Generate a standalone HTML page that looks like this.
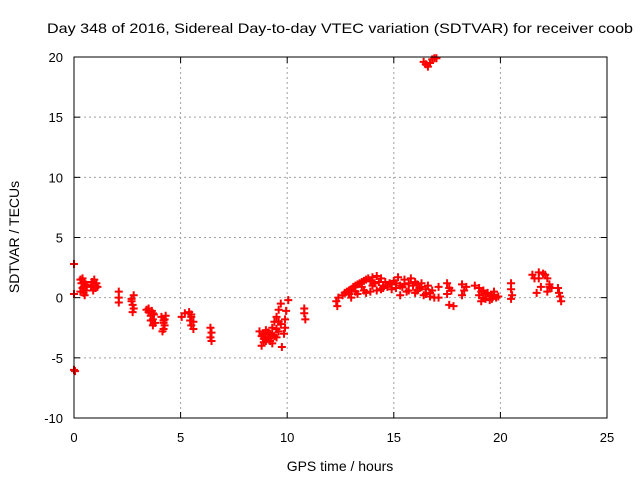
<!DOCTYPE html>
<html><head><meta charset="utf-8"><style>
html,body{margin:0;padding:0;background:#fff;}
svg{display:block;font-family:"Liberation Sans",sans-serif;}
</style></head><body>
<svg id="chart" width="640" height="480">
<text x="47" y="33" font-size="14" textLength="586" lengthAdjust="spacingAndGlyphs">Day 348 of 2016, Sidereal Day-to-day VTEC variation (SDTVAR) for receiver coob</text>
<text transform="translate(19,237) rotate(-90)" text-anchor="middle" font-size="14">SDTVAR / TECUs</text>
<text x="340" y="471" text-anchor="middle" font-size="14">GPS time / hours</text>
<g id="grid"></g><g id="ticks"></g><g id="marks"></g>
<rect x="74" y="57" width="533" height="361" fill="none" stroke="#000" stroke-width="1"/>
</svg>
<script>
const xTicks=[0,5,10,15,20,25];
const yTicks=[-10,-5,0,5,10,15,20];
const times=[0,0,0,0.05,0.3,0.35,0.4,0.45,0.5,0.55,0.6,0.3,0.4,0.5,0.8,0.85,0.9,0.95,1.0,1.05,1.1,0.9,2.1,2.1,2.1,2.7,2.75,2.8,2.75,2.8,2.7,3.4,3.5,3.6,3.7,3.8,3.5,3.65,3.75,3.7,4.1,4.2,4.25,4.2,4.15,4.3,4.2,5.05,5.2,5.4,5.5,5.6,5.5,5.6,5.45,6.4,6.45,6.4,6.45,8.7,8.8,8.9,9.0,8.8,8.9,9.1,9.2,9.3,9.4,9.5,9.6,9.7,9.5,9.6,9.7,9.2,9.4,9.0,9.75,9.9,9.9,9.85,9.95,10.05,10.8,10.8,10.85,12.3,12.35,12.4,12.6,12.8,13.0,13.2,13.4,13.6,13.8,14.0,14.2,14.4,13.0,13.3,13.6,13.9,14.2,14.5,13.5,14.0,14.6,14.8,12.9,15.0,15.2,15.5,15.8,16.0,16.3,16.6,15.1,15.4,15.7,16.0,16.2,16.5,16.7,16.9,17.1,16.8,15.3,17.1,17.5,17.6,17.5,17.7,17.6,17.8,18.2,18.3,18.2,18.4,18.8,19.0,19.2,19.4,19.6,19.8,19.0,19.3,19.1,19.5,19.7,19.9,20.5,20.5,20.55,20.5,21.5,21.6,21.8,22.0,22.2,22.3,22.4,21.7,21.9,22.2,22.7,22.75,22.8,22.85,16.4,16.5,16.6,16.7,16.8,16.9,17.0,
12.7,12.9,13.1,13.3,13.5,13.7,13.9,14.1,14.3,14.5,14.7,14.9,15.1,15.3,15.5,15.7,15.9,16.1,16.3,16.5,16.7,13.2,13.7,14.4,14.9,15.6,16.1,16.4,19.1,19.3,19.5,19.7,19.2,19.6,8.9,9.1,9.3,9.5,9.0,9.3,9.6,0.45,0.55,1.0,3.6,3.7,4.25,5.5,21.8,22.1,22.3];
const values=[2.8,0.3,-6.0,-6.1,1.5,1.2,0.8,0.4,1.3,0.6,1.0,0.5,1.6,0.2,0.9,1.3,1.0,1.5,0.8,1.2,0.9,0.6,0.5,0.0,-0.4,-0.3,-0.6,-0.9,-1.2,0.2,-0.1,-1.0,-1.2,-1.5,-1.8,-2.1,-0.9,-1.1,-1.4,-2.3,-1.6,-1.9,-2.3,-2.6,-2.8,-1.5,-2.1,-1.6,-1.3,-1.2,-1.6,-2.0,-2.3,-2.6,-1.9,-2.5,-2.9,-3.3,-3.6,-2.8,-3.2,-3.0,-2.7,-4.0,-3.7,-3.4,-3.0,-2.5,-2.0,-1.6,-1.0,-0.5,-3.3,-2.8,-2.2,-3.6,-3.2,-3.6,-4.1,-2.5,-1.8,-3.0,-1.1,-0.2,-0.9,-1.3,-1.8,-0.3,-0.7,0.0,0.2,0.5,0.7,1.0,1.2,1.4,1.6,1.7,1.8,1.6,0.0,0.3,0.6,0.5,0.6,0.8,0.9,1.0,1.3,1.2,0.3,1.4,1.7,1.5,1.6,1.3,1.2,1.0,0.8,0.9,0.6,0.4,0.8,0.3,0.1,0.0,0.0,0.6,0.2,0.9,1.2,0.8,0.3,0.6,-0.6,-0.7,1.1,0.6,0.2,0.9,1.0,0.8,0.6,0.4,0.2,0.0,0.2,-0.1,-0.3,-0.2,0.5,0.1,1.2,0.7,0.2,-0.1,1.9,1.6,2.1,2.0,1.6,1.1,0.8,0.4,0.9,0.5,0.8,0.4,0.1,-0.3,19.6,19.4,19.2,19.5,19.8,19.9,19.9,
0.4,0.6,0.9,1.1,1.3,1.5,1.4,1.2,1.3,1.0,0.9,1.1,1.2,1.0,1.1,1.2,1.0,1.1,0.9,0.7,0.4,0.5,0.4,0.7,0.7,0.5,0.6,0.2,0.5,0.3,0.1,0.2,0.0,-0.1,-3.4,-2.9,-3.1,-2.6,-3.3,-3.8,-2.0,0.9,1.1,1.0,-1.9,-1.3,-1.8,-1.4,1.6,1.9,0.9];
const NS='http://www.w3.org/2000/svg';
const X0=74,X1=607,Y0=418,Y1=57;
function xs(v){return X0+(v-0)/(25-0)*(X1-X0);}
function ys(v){return Y0-(v+10)/(30)*(Y0-Y1);}
function mk(tag,at,parent){const e=document.createElementNS(NS,tag);for(const k in at)e.setAttribute(k,at[k]);parent.appendChild(e);return e;}
const grid=document.getElementById('grid'),ticks=document.getElementById('ticks'),marks=document.getElementById('marks');
xTicks.forEach(t=>{const x=xs(t);
 if(t>0&&t<25){const g=mk('line',{x1:x,x2:x,y1:Y1,y2:Y0,stroke:'#a0a0a0','stroke-dasharray':'2,3'},grid);
 
 }
 mk('line',{x1:x,x2:x,y1:Y0,y2:Y0-6,stroke:'#000'},ticks);
 mk('line',{x1:x,x2:x,y1:Y1,y2:Y1+6,stroke:'#000'},ticks);
 const l=mk('text',{x:x,y:442,'text-anchor':'middle','font-size':'13'},ticks);l.textContent=t;
 
 
});
yTicks.forEach(t=>{const y=ys(t);
 if(t>-10&&t<20){const g=mk('line',{x1:X0,x2:X1,y1:y,y2:y,stroke:'#a0a0a0','stroke-dasharray':'2,3'},grid);
 
 }
 mk('line',{x1:X0,x2:X0+6,y1:y,y2:y,stroke:'#000'},ticks);
 mk('line',{x1:X1,x2:X1-6,y1:y,y2:y,stroke:'#000'},ticks);
 const l=mk('text',{x:63,y:y+5,'text-anchor':'end','font-size':'13'},ticks);l.textContent=t;
 
 
});
for(let i=0;i<times.length;i++){const x=xs(times[i]),y=ys(values[i]);
 const p=mk('path',{d:`M${x-4},${y}H${x+4}M${x},${y-4}V${y+4}`,stroke:'#ff0000','stroke-width':'2',fill:'none'},marks);
 
 
}
</script>
</body></html>
